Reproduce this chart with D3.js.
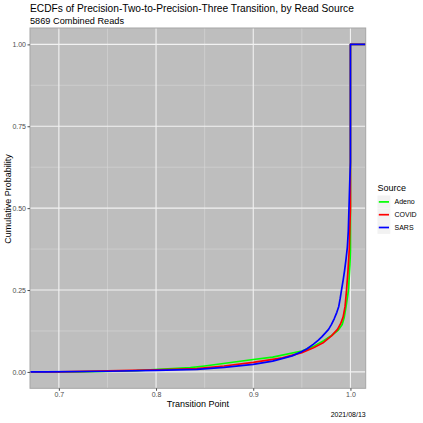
<!DOCTYPE html>
<html>
<head>
<meta charset="utf-8">
<script src="https://cdn.jsdelivr.net/npm/d3@7"></script>
<style>
	body { margin: 0; background: #fff; }
	svg { font-family: 'Liberation Sans', Arial, sans-serif; }
</style>
</head>
<body>
<div id="chart"></div>
<script>
// ECDF knots: transition point -> cumulative probability
const adenoX = [0.72, 0.78, 0.8353, 0.85, 0.90, 0.92, 0.95, 0.962, 0.9724, 0.981, 0.9875, 0.9915, 0.9935, 0.9955, 0.998, 0.9995, 1.0, 1.0]
const adenoP = [0, 0.004, 0.013, 0.018, 0.038, 0.045, 0.064, 0.078, 0.095, 0.112, 0.128, 0.145, 0.165, 0.2, 0.25, 0.33, 0.37, 1.0]

const covidX = [0.70, 0.75, 0.80, 0.842, 0.87, 0.90, 0.93, 0.95, 0.962, 0.9724, 0.9805, 0.9867, 0.99, 0.9925, 0.9945, 0.996, 0.9975, 0.9988, 0.9995, 1.0, 1.0]
const covidP = [0, 0.003, 0.006, 0.01, 0.018, 0.029, 0.043, 0.059, 0.074, 0.09, 0.11, 0.13, 0.148, 0.168, 0.2, 0.25, 0.31, 0.374, 0.45, 0.5, 1.0]

const sarsX = [0.686, 0.75, 0.80, 0.842, 0.87, 0.90, 0.92, 0.94, 0.95, 0.955, 0.962, 0.967, 0.9705, 0.9745, 0.9775, 0.9805, 0.9834, 0.986, 0.988, 0.9895, 0.9908, 0.9925, 0.994, 0.9955, 0.9968, 0.9978, 0.9985, 0.9993, 1.0, 1.0]
const sarsP = [0, 0.002, 0.005, 0.008, 0.014, 0.023, 0.033, 0.049, 0.062, 0.07, 0.085, 0.097, 0.107, 0.12, 0.13, 0.145, 0.163, 0.182, 0.2, 0.225, 0.25, 0.28, 0.31, 0.345, 0.38, 0.43, 0.5, 0.58, 0.64, 1.0]

const sources = ['Adeno', 'COVID', 'SARS']
const colors = ['#00ff00', '#ff0000', '#0000ff']
const xTicks = [0.7, 0.8, 0.9, 1.0]
const xMinor = [0.75, 0.85, 0.95]
const yTicks = [0, 0.25, 0.5, 0.75, 1.0]
const yMinor = [0.125, 0.375, 0.625, 0.875]

const series = [
	{ name: 'Adeno', xs: adenoX, ps: adenoP },
	{ name: 'COVID', xs: covidX, ps: covidP },
	{ name: 'SARS', xs: sarsX, ps: sarsP }
]

const width = 423
const height = 423
const panel = { left: 30, right: 365.7, top: 28, bottom: 388.3 }

const svg = d3.select('#chart').append('svg')
	.attr('width', width)
	.attr('height', height)

// ggplot style 5% expansion on both axes
const xMin = 0.686, xMax = 1.0
const xPad = (xMax - xMin) * 0.05
const x = d3.scaleLinear()
	.domain([xMin - xPad, xMax + xPad])
	.range([panel.left, panel.right])
const y = d3.scaleLinear()
	.domain([-0.05, 1.05])
	.range([panel.bottom, panel.top])

svg.append('rect')
	.attr('x', panel.left)
	.attr('y', panel.top)
	.attr('width', panel.right - panel.left)
	.attr('height', panel.bottom - panel.top)
	.attr('fill', '#bebebe')

const grid = svg.append('g')
grid.selectAll('.xminor').data(xMinor).enter().append('line')
	.attr('x1', d => x(d)).attr('x2', d => x(d))
	.attr('y1', panel.top).attr('y2', panel.bottom)
	.attr('stroke', '#d6d6d6').attr('stroke-width', 0.6)
grid.selectAll('.yminor').data(yMinor).enter().append('line')
	.attr('y1', d => y(d)).attr('y2', d => y(d))
	.attr('x1', panel.left).attr('x2', panel.right)
	.attr('stroke', '#d6d6d6').attr('stroke-width', 0.6)
grid.selectAll('.xmajor').data(xTicks).enter().append('line')
	.attr('x1', d => x(d)).attr('x2', d => x(d))
	.attr('y1', panel.top).attr('y2', panel.bottom)
	.attr('stroke', '#f2f2f2').attr('stroke-width', 1.1)
grid.selectAll('.ymajor').data(yTicks).enter().append('line')
	.attr('y1', d => y(d)).attr('y2', d => y(d))
	.attr('x1', panel.left).attr('x2', panel.right)
	.attr('stroke', '#f2f2f2').attr('stroke-width', 1.1)

// ecdf lines, padded out to the panel edges like stat_ecdf(pad = TRUE)
const line = d3.line()
	.x(d => d[0])
	.y(d => y(d[1]))

svg.append('g').selectAll('path')
	.data(series)
	.enter()
	.append('path')
	.attr('d', s => {
		const pts = s.xs.map((v, i) => [x(v), s.ps[i]])
		return line([[panel.left, 0]].concat(pts, [[panel.right, 1]]))
	})
	.attr('fill', 'none')
	.attr('stroke', s => colors[sources.indexOf(s.name)])
	.attr('stroke-width', 1.7)
	.attr('stroke-linejoin', 'round')

svg.append('rect')
	.attr('x', panel.left)
	.attr('y', panel.top)
	.attr('width', panel.right - panel.left)
	.attr('height', panel.bottom - panel.top)
	.attr('fill', 'none')
	.attr('stroke', '#a6a6a6')
	.attr('stroke-width', 1)

// axes
const xAxis = d3.axisBottom(x)
	.tickValues(xTicks)
	.tickSize(2.5)
	.tickFormat(d3.format('.1f'))
const gx = svg.append('g')
	.attr('transform', `translate(0,${panel.bottom})`)
	.call(xAxis)
gx.select('.domain').remove()
gx.selectAll('line').attr('stroke', '#4d4d4d')
gx.selectAll('text').attr('fill', '#4d4d4d').attr('font-size', 7).attr('dy', '0.71em').attr('y', 4)

const yAxis = d3.axisLeft(y)
	.tickValues(yTicks)
	.tickSize(2.5)
	.tickFormat(d3.format('.2f'))
const gy = svg.append('g')
	.attr('transform', `translate(${panel.left},0)`)
	.call(yAxis)
gy.select('.domain').remove()
gy.selectAll('line').attr('stroke', '#4d4d4d')
gy.selectAll('text').attr('fill', '#4d4d4d').attr('font-size', 7).attr('x', -4)

svg.append('text')
	.attr('x', (panel.left + panel.right) / 2)
	.attr('y', 406.5)
	.attr('text-anchor', 'middle')
	.attr('font-size', 9)
	.text('Transition Point')

svg.append('text')
	.attr('transform', 'translate(11,199) rotate(-90)')
	.attr('text-anchor', 'middle')
	.attr('font-size', 9)
	.text('Cumulative Probability')

// titles
svg.append('text')
	.attr('x', panel.left)
	.attr('y', 12)
	.attr('font-size', 10.2)
	.text('ECDFs of Precision-Two-to-Precision-Three Transition, by Read Source')

svg.append('text')
	.attr('x', panel.left)
	.attr('y', 24)
	.attr('font-size', 9.2)
	.text('5869 Combined Reads')

svg.append('text')
	.attr('x', panel.right)
	.attr('y', 417)
	.attr('text-anchor', 'end')
	.attr('font-size', 7)
	.text('2021/08/13')

// legend
const legend = svg.append('g')
	.attr('transform', 'translate(377.5,195.5)')
legend.append('text')
	.attr('x', 0)
	.attr('y', -5)
	.attr('font-size', 9)
	.text('Source')
const keys = legend.selectAll('g')
	.data(sources)
	.enter()
	.append('g')
	.attr('transform', (d, i) => `translate(0,${i * 12.8})`)
keys.append('rect')
	.attr('width', 12.8)
	.attr('height', 12.8)
	.attr('fill', '#f2f2f2')
keys.append('line')
	.attr('x1', 1.3).attr('x2', 11.5)
	.attr('y1', 6.4).attr('y2', 6.4)
	.attr('stroke', (d, i) => colors[i])
	.attr('stroke-width', 1.7)
keys.append('text')
	.attr('x', 17)
	.attr('y', 6.4)
	.attr('dy', '0.35em')
	.attr('font-size', 7)
	.text(d => d)
</script>
</body>
</html>
